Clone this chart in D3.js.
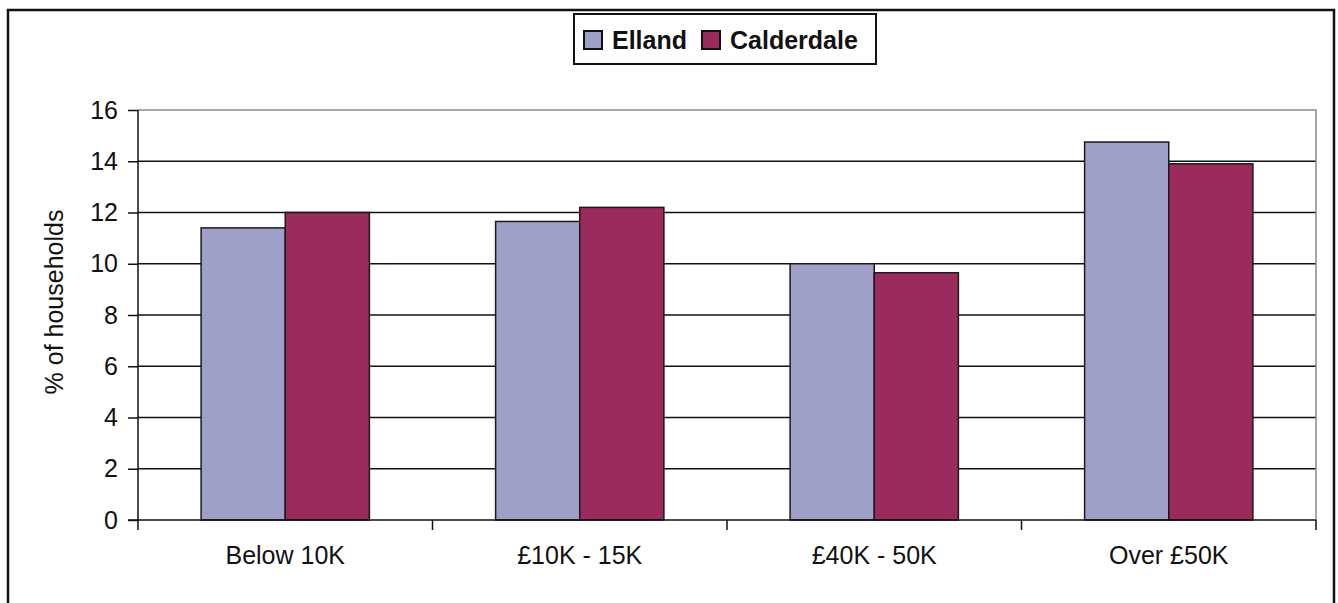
<!DOCTYPE html>
<html><head><meta charset="utf-8">
<script src="https://cdn.jsdelivr.net/npm/d3@7"></script>
<style>html,body{margin:0;padding:0;background:#fff;}svg{display:block;}</style>
</head><body>
<script>
const categories = ["Below 10K", "£10K - 15K", "£40K - 50K", "Over £50K"];
const seriesNames = ["Elland", "Calderdale"];
const elland = [11.4, 11.65, 10.0, 14.75];
const calderdale = [12.0, 12.2, 9.65, 13.9];
const yTicks = [0, 2, 4, 6, 8, 10, 12, 14, 16];
const colors = ["#a09fc8", "#9b2b5d"];

const W = 1338, H = 603;
const svg = d3.select("body").append("svg").attr("width", W).attr("height", H);
const font = "'Liberation Sans', Arial, Helvetica, sans-serif";

// outer frame
svg.append("rect").attr("x", 8).attr("y", 10).attr("width", 1326).attr("height", 620)
  .attr("fill", "none").attr("stroke", "#111").attr("stroke-width", 2.5);

const L = 138, R = 1316, T = 110, B = 520;
const x0 = d3.scaleBand().domain(categories).range([L, R]).paddingInner(0).paddingOuter(0);
const y = d3.scaleLinear().domain([0, 16]).range([B, T]);
const bw = x0.bandwidth() / 3.5;

// gridlines
svg.append("g").selectAll("line").data(yTicks.filter(d => d > 0 && d < 16)).join("line")
  .attr("x1", L).attr("x2", R).attr("y1", d => y(d)).attr("y2", d => y(d))
  .attr("stroke", "#111").attr("stroke-width", 1.5);
// plot border top/right gray
svg.append("path").attr("d", `M${L},${y(16)}H${R}V${B}`).attr("fill", "none")
  .attr("stroke", "#8a8a8a").attr("stroke-width", 1.5);

// bars
const data = categories.map((c, i) => ({c, v: [elland[i], calderdale[i]]}));
data.forEach(d => {
  d.v.forEach((v, j) => {
    const xs = x0(d.c) + x0.bandwidth() / 2 - bw + j * bw;
    svg.append("rect").attr("x", xs).attr("y", y(v)).attr("width", bw).attr("height", y(0) - y(v))
      .attr("fill", colors[j]).attr("stroke", "#1a1a1a").attr("stroke-width", 1.5);
  });
});

// y axis
const yAxis = d3.axisLeft(y).tickValues(yTicks).tickSize(10).tickPadding(10);
const gy = svg.append("g").attr("transform", `translate(${L},0)`).call(yAxis);
gy.select(".domain").remove();
gy.selectAll(".tick line").attr("stroke", "#111").attr("stroke-width", 1.5);
gy.selectAll("text").attr("font-family", font).attr("font-size", 25).attr("fill", "#111");
svg.append("line").attr("x1", L).attr("x2", L).attr("y1", T).attr("y2", B + 10)
  .attr("stroke", "#111").attr("stroke-width", 1.5);

// x axis
svg.append("line").attr("x1", L - 10).attr("x2", R).attr("y1", B).attr("y2", B)
  .attr("stroke", "#111").attr("stroke-width", 1.5);
const bounds = categories.map(c => x0(c)).concat([R]);
svg.append("g").selectAll("line").data(bounds.slice(1)).join("line")
  .attr("x1", d => d).attr("x2", d => d).attr("y1", B).attr("y2", B + 10)
  .attr("stroke", "#111").attr("stroke-width", 1.5);
svg.append("g").selectAll("text").data(categories).join("text")
  .attr("x", d => x0(d) + x0.bandwidth() / 2).attr("y", 564)
  .attr("text-anchor", "middle").attr("font-family", font).attr("font-size", 25).attr("fill", "#111")
  .text(d => d);

// y title
svg.append("text").attr("transform", "translate(63,302) rotate(-90)")
  .attr("text-anchor", "middle").attr("font-family", font).attr("font-size", 25).attr("fill", "#111")
  .text("% of households");

// legend
const lg = svg.append("g");
lg.append("rect").attr("x", 574).attr("y", 14).attr("width", 302).attr("height", 50)
  .attr("fill", "#fff").attr("stroke", "#111").attr("stroke-width", 2);
const lx = [584, 702];
seriesNames.forEach((n, i) => {
  lg.append("rect").attr("x", lx[i]).attr("y", 31).attr("width", 18).attr("height", 18)
    .attr("fill", colors[i]).attr("stroke", "#111").attr("stroke-width", 2);
  lg.append("text").attr("x", lx[i] + 28).attr("y", 49).attr("font-family", font)
    .attr("font-weight", "bold").attr("font-size", 25).attr("fill", "#111").text(n);
});
</script>
</body></html>
